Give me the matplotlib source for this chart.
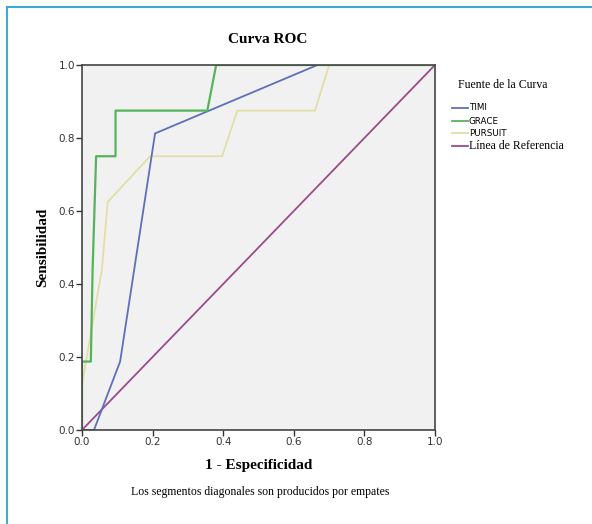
import matplotlib.pyplot as plt
from matplotlib.lines import Line2D

# ── ROC curve points ─────────────────────────────────────────────
timi_x    = [0.0, 0.034, 0.108, 0.207, 0.667, 1.0]
timi_y    = [0.0, 0.0, 0.1875, 0.8125, 1.0, 1.0]

grace_x   = [0.0, 0.0, 0.025, 0.03, 0.04, 0.095, 0.095, 0.355, 0.38, 1.0]
grace_y   = [0.0, 0.1875, 0.1875, 0.4375, 0.75, 0.75, 0.875, 0.875, 1.0, 1.0]

pursuit_x = [0.0, 0.0, 0.056, 0.073, 0.193, 0.397, 0.44, 0.66, 0.70, 1.0]
pursuit_y = [0.0, 0.125, 0.4375, 0.625, 0.75, 0.75, 0.875, 0.875, 1.0, 1.0]

ref_x = [0.0, 1.0]
ref_y = [0.0, 1.0]

labels = ['TIMI', 'GRACE', 'PURSUIT', 'Línea de Referencia']
colors = ['#5d6fbb', '#55b45a', '#e3dea6', '#9c4a8e']
ticks  = [0.0, 0.2, 0.4, 0.6, 0.8, 1.0]

SERIF = 'Liberation Serif'

fig = plt.figure(figsize=(5.92, 5.24), dpi=100)
ax = fig.add_axes([0.1385, 0.1794, 0.5963, 0.6966])
ax.set_facecolor('#f1f1f1')

ax.plot(ref_x, ref_y, color=colors[3], lw=1.3)
ax.plot(pursuit_x, pursuit_y, color=colors[2], lw=1.3)
ax.plot(timi_x, timi_y, color=colors[0], lw=1.3)
ax.plot(grace_x, grace_y, color=colors[1], lw=1.6)

ax.set_xlim(0, 1)
ax.set_ylim(0, 1)
ax.set_xticks(ticks)
ax.set_yticks(ticks)
ax.set_xticklabels([f'{t:.1f}' for t in ticks])
ax.set_yticklabels([f'{t:.1f}' for t in ticks])
ax.tick_params(labelsize=7.5, length=4, width=1, colors='#333333', pad=1)
for s in ax.spines.values():
    s.set_color('#444444')
    s.set_linewidth(1.2)

fig.text(0.452, 0.924, 'Curva ROC', fontfamily=SERIF, fontweight='bold',
         fontsize=11, ha='center', va='center')
ax.set_xlabel('1 - Especificidad', fontfamily=SERIF, fontweight='bold', fontsize=11, labelpad=9)
ax.set_ylabel('Sensibilidad', fontfamily=SERIF, fontweight='bold', fontsize=11, labelpad=7)

fig.text(0.44, 0.061, 'Los segmentos diagonales son producidos por empates',
         fontfamily=SERIF, fontsize=8.5, ha='center', va='center')

# ── legend drawn by hand to mimic the mixed fonts ───────────────
fig.text(0.774, 0.838, 'Fuente de la Curva', fontfamily=SERIF, fontsize=8.5,
         va='center', ha='left')
ly = [0.794, 0.769, 0.746, 0.721]
for lab, col, y in zip(labels, colors, ly):
    fig.add_artist(Line2D([0.764, 0.791], [y, y], color=col, lw=1.3,
                          transform=fig.transFigure))
    if lab == 'Línea de Referencia':
        fig.text(0.792, y, lab, fontfamily=SERIF, fontsize=8.5, va='center')
    else:
        fig.text(0.792, y, lab, fontfamily='DejaVu Sans', fontsize=6.3, va='center')

# light blue frame on top and left edges
fig.add_artist(Line2D([0.011, 1.0], [0.986, 0.986], color='#3fa9d8', lw=1.5,
                      transform=fig.transFigure))
fig.add_artist(Line2D([0.011, 0.011], [0.0, 0.986], color='#3fa9d8', lw=1.5,
                      transform=fig.transFigure))

plt.savefig('out.png', dpi=100)
